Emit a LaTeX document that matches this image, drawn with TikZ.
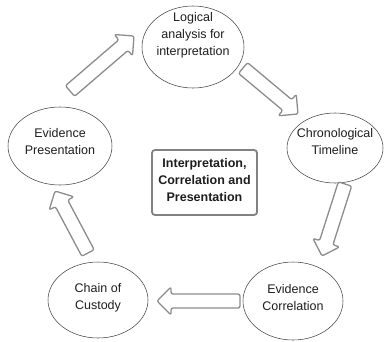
\documentclass[tikz,border=0pt]{standalone}
\usepackage{fontspec}
\setmainfont{Liberation Sans}
\usetikzlibrary{shapes.geometric,calc}
\definecolor{rimgray}{RGB}{70,70,70}
\definecolor{arrowgray}{RGB}{140,140,140}
\definecolor{boxgray}{RGB}{130,130,130}
\definecolor{inkgray}{RGB}{30,30,30}

\tikzset{
  stage/.style={ellipse, draw=rimgray, line width=0.55pt, fill=white, inner sep=0pt},
  stagetext/.style={align=center, text=inkgray, font=\fontsize{12.5}{17}\selectfont, inner sep=0pt},
  hubbox/.style={draw=boxgray, line width=1.8pt, rounded corners=3pt, fill=white},
  hubtext/.style={align=center, text=inkgray, font=\fontsize{12.5}{17}\selectfont\bfseries, inner sep=0pt},
  fatarrow/.style={draw=arrowgray, line width=1.3pt, fill=white, rounded corners=2pt, line join=round}
}

% hollow block arrow from the named coordinate #1 (tail) to #2 (tip)
\newcommand{\blockarrow}[2]{%
  \coordinate (#1-h) at ($(#2)!14pt!(#1)$);
  \draw[fatarrow]
    ($(#1)!7pt!90:(#2)$) -- ($(#1-h)!7pt!90:(#2)$) -- ($(#1-h)!14pt!90:(#2)$)
    -- (#2)
    -- ($(#1-h)!14pt!-90:(#2)$) -- ($(#1-h)!7pt!-90:(#2)$) -- ($(#1)!7pt!-90:(#2)$) -- cycle;
}

\begin{document}
\begin{tikzpicture}[x=1pt,y=-1pt]
\useasboundingbox (0,0) rectangle (385,341);

% the five stages of the cycle
\node[stage, minimum width=102pt, minimum height=82pt] (logic) at (193,47) {};
\node[stagetext] (logic-t) at (193,35) {Logical\\analysis for\\interpretation};

\node[stage, minimum width=96pt, minimum height=70pt] (chrono) at (335,148) {};
\node[stagetext] (chrono-t) at (335,142) {Chronological\\Timeline};

\node[stage, minimum width=100pt, minimum height=78pt] (corr) at (293,301) {};
\node[stagetext] (corr-t) at (293,298) {Evidence\\Correlation};

\node[stage, minimum width=100pt, minimum height=76pt] (chain) at (98,300) {};
\node[stagetext] (chain-t) at (98,298) {Chain of\\Custody};

\node[stage, minimum width=104pt, minimum height=78pt] (pres) at (60,146) {};
\node[stagetext] (pres-t) at (60,142) {Evidence\\Presentation};

% central box
\node[hubbox, minimum width=105pt, minimum height=65pt] (hub) at (204.5,182.5) {};
\node[hubtext] (hub-t) at (204.5,180) {Interpretation,\\Correlation and\\Presentation};

% arrow ends
\coordinate (a1) at (70,91);   \coordinate (b1) at (134,36);
\coordinate (a2) at (243,68);  \coordinate (b2) at (298,114);
\coordinate (a3) at (345,184); \coordinate (b3) at (322,256);
\coordinate (a4) at (240,301); \coordinate (b4) at (157,301);
\coordinate (a5) at (88,253);  \coordinate (b5) at (55,191);

\blockarrow{a1}{b1}
\blockarrow{a2}{b2}
\blockarrow{a3}{b3}
\blockarrow{a4}{b4}
\blockarrow{a5}{b5}
\end{tikzpicture}
\end{document}
